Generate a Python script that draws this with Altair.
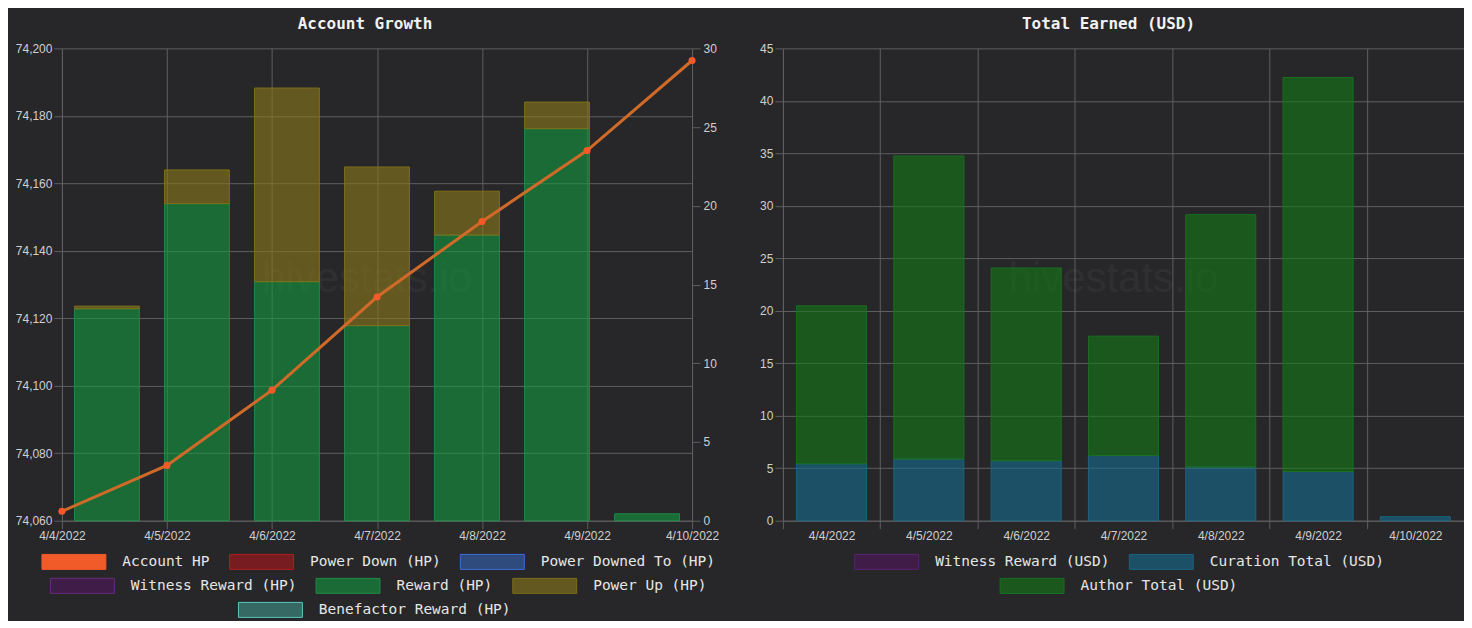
import altair as alt
import pandas as pd

# ---------------- data ----------------
dates = ["4/4/2022", "4/5/2022", "4/6/2022", "4/7/2022", "4/8/2022", "4/9/2022", "4/10/2022"]
account_hp = [74062.8, 74076.4, 74098.7, 74126.3, 74148.7, 74169.7, 74196.4]
reward_hp = [13.46, 20.14, 15.18, 12.39, 18.14, 24.90, 0.44]
power_up_hp = [0.17, 2.14, 12.30, 10.08, 2.79, 1.69, 0.0]
curation_usd = [5.42, 5.87, 5.71, 6.21, 5.11, 4.69, 0.38]
author_usd = [15.05, 28.88, 18.37, 11.37, 24.05, 37.54, 0.0]

hp_row1 = ["Account HP", "Power Down (HP)", "Power Downed To (HP)"]
hp_row1_fill = ["#f15a29", "rgba(200,20,25,0.5)", "rgba(55,110,210,0.5)"]
hp_row1_stroke = ["#f15a29", "#b01e1e", "#3c6ed8"]
hp_row2 = ["Witness Reward (HP)", "Reward (HP)", "Power Up (HP)"]
hp_row2_fill = ["rgba(90,20,105,0.5)", "rgba(20,153,63,0.6)", "rgba(138,121,26,0.6)"]
hp_row2_stroke = ["#6a2a80", "#1f8a46", "#7e6e18"]
hp_row3 = ["Benefactor Reward (HP)"]
hp_row3_fill = ["rgba(70,170,160,0.5)"]
hp_row3_stroke = ["#5ac8be"]

usd_series = ["Witness Reward (USD)", "Curation Total (USD)", "Author Total (USD)"]
usd_fill = ["rgba(90,20,105,0.5)", "rgba(20,108,143,0.6)", "rgba(18,121,23,0.6)"]
usd_stroke = ["#5c2070", "#1d6282", "#1a6e1f"]

watermark = ["hivestats.io"]

# ---------------- styling ----------------
BG = "#272729"
GRID = "#5e5e5e"
LABEL = "#d0d0d0"
MONO = "DejaVu Sans Mono"
SANS = "Liberation Sans"
W1, W2, H = 631, 682, 473
SYM = "M-1,-1H7.533V1H-1Z"


def mk_legend(x, y, values=None):
    kw = dict(orient="none", legendX=x, legendY=y, direction="horizontal", title=None,
              symbolType=SYM, symbolSize=225, symbolStrokeWidth=1, symbolOpacity=1,
              labelFont=MONO, labelFontSize=14.5, labelColor="#e6e6e6", labelOffset=65,
              labelLimit=400, columnPadding=17, padding=0)
    if values is not None:
        kw["values"] = values
    return alt.Legend(**kw)


def legend_layer(names, fills, strokes, x, y):
    df = pd.DataFrame({"series": names})
    lg = mk_legend(x, y)
    return alt.Chart(df).mark_bar().encode(
        fill=alt.Fill("series:N", scale=alt.Scale(domain=names, range=fills), legend=lg),
        stroke=alt.Stroke("series:N", scale=alt.Scale(domain=names, range=strokes), legend=lg),
    ).transform_filter("false")


def wm_layer(w):
    return alt.Chart(pd.DataFrame({"t": watermark})).mark_text(
        font=SANS, fontSize=42, color="#ffffff", opacity=0.035, align="center", baseline="middle"
    ).encode(text="t:N", x=alt.value(w / 2 - 10), y=alt.value(H / 2 - 6))


# ---------------- left chart ----------------
rows = []
for d, r, p in zip(dates, reward_hp, power_up_hp):
    if r > 0:
        rows.append({"date": d, "series": "Reward (HP)", "value": r, "k": 0})
    if p > 0:
        rows.append({"date": d, "series": "Power Up (HP)", "value": p, "k": 1})
bars_hp = pd.DataFrame(rows)

lg_row2 = mk_legend(-12, 530)
bars_left = alt.Chart(bars_hp).mark_bar(strokeWidth=1).encode(
    x=alt.X("date:O", sort=dates, scale=alt.Scale(paddingInner=0.28, paddingOuter=0.14), axis=None),
    y=alt.Y("value:Q", stack="zero", scale=alt.Scale(domain=[0, 30], nice=False),
            axis=alt.Axis(orient="right", values=[0, 5, 10, 15, 20, 25, 30], grid=False, title=None,
                          tickSize=8, labelPadding=3, minExtent=30, maxExtent=30)),
    fill=alt.Fill("series:N", scale=alt.Scale(domain=hp_row2, range=hp_row2_fill), legend=lg_row2),
    stroke=alt.Stroke("series:N", scale=alt.Scale(domain=hp_row2, range=hp_row2_stroke), legend=lg_row2),
    order=alt.Order("k:Q"),
)

line_df = pd.DataFrame({"date": dates, "hp": account_hp})
line_left = alt.Chart(line_df).mark_line(
    color="#d06a28", strokeWidth=3,
    point=alt.OverlayMarkDef(filled=True, size=50, color="#f5592a", opacity=1),
).encode(
    x=alt.X("date:O", sort=dates, scale=alt.Scale(type="point", padding=0),
            axis=alt.Axis(grid=True, labelAngle=0, title=None, tickSize=8, labelPadding=2)),
    y=alt.Y("hp:Q", scale=alt.Scale(domain=[74060, 74200], nice=False, zero=False),
            axis=alt.Axis(orient="left", values=list(range(74060, 74201, 20)), format=",d", grid=True,
                          title=None, tickSize=8, labelPadding=2, minExtent=54, maxExtent=54)),
)

left = alt.layer(
    wm_layer(W1), bars_left,
    legend_layer(hp_row1, hp_row1_fill, hp_row1_stroke, -20.5, 506),
    legend_layer(hp_row3, hp_row3_fill, hp_row3_stroke, 176.3, 554.3),
    line_left,
).resolve_scale(
    x="independent", y="independent", fill="independent", stroke="independent"
).properties(width=W1, height=H, title=alt.Title("Account Growth"))

# ---------------- right chart ----------------
rows = []
for d, c, a in zip(dates, curation_usd, author_usd):
    if c > 0:
        rows.append({"date": d, "series": "Curation Total (USD)", "value": c, "k": 0})
    if a > 0:
        rows.append({"date": d, "series": "Author Total (USD)", "value": a, "k": 1})
bars_usd = pd.DataFrame(rows)

last_tick = "datum.value === '" + dates[-1] + "'"
lg_r1 = mk_legend(71.4, 506, values=usd_series[:2])
bars_right = alt.Chart(bars_usd).mark_bar(strokeWidth=1, width=alt.RelativeBandSize(0.72)).encode(
    x=alt.X("date:O", sort=dates, scale=alt.Scale(paddingInner=0, paddingOuter=0),
            axis=alt.Axis(tickBand="extent", grid=True, labelAngle=0, title=None, tickSize=8, labelPadding=2,
                          gridOpacity=alt.condition(last_tick, alt.value(0), alt.value(1)),
                          tickOpacity=alt.condition(last_tick, alt.value(0), alt.value(1)))),
    y=alt.Y("value:Q", stack="zero", scale=alt.Scale(domain=[0, 45], nice=False),
            axis=alt.Axis(values=list(range(0, 46, 5)), grid=True, title=None, tickSize=8,
                          labelPadding=2, minExtent=30, maxExtent=30)),
    fill=alt.Fill("series:N", scale=alt.Scale(domain=usd_series, range=usd_fill), legend=lg_r1),
    stroke=alt.Stroke("series:N", scale=alt.Scale(domain=usd_series, range=usd_stroke), legend=lg_r1),
    order=alt.Order("k:Q"),
)

right = alt.layer(
    wm_layer(W2), bars_right,
    legend_layer(usd_series[2:], usd_fill[2:], usd_stroke[2:], 217, 530.3),
).resolve_scale(
    fill="independent", stroke="independent"
).properties(width=W2, height=H, title=alt.Title("Total Earned (USD)"))

chart = alt.hconcat(left, right, spacing=31).configure(
    background=BG,
    padding={"left": 0, "top": 8, "right": 0, "bottom": 0},
).configure_view(stroke=None).configure_axis(
    domainColor=GRID, tickColor=GRID, gridColor=GRID, labelColor=LABEL,
    labelFont=SANS, labelFontSize=12,
).configure_title(
    font=MONO, fontSize=16, fontWeight="bold", color="#f2f2f2", anchor="middle", offset=10,
    frame="bounds",
)

chart.save("out.html", embed_options={"renderer": "svg", "actions": False})
